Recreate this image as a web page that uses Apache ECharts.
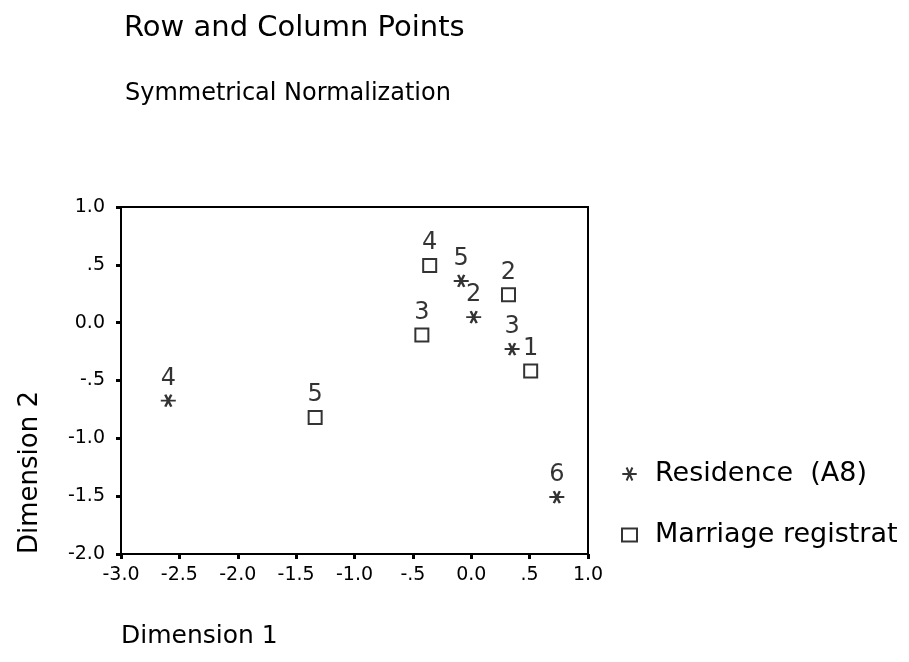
<!DOCTYPE html>
<html>
<head>
<meta charset="utf-8">
<script src="https://cdn.jsdelivr.net/npm/echarts@6/dist/echarts.min.js"></script>
<style>
  html, body { margin: 0; padding: 0; background: #fff; }
  #chart { width: 909px; height: 662px; }
</style>
</head>
<body>
<div id="chart"></div>
<script>
// ---- data ----
var residenceLabels = ['4', '5', '2', '3', '6'];
var residenceX = [-2.595, -0.086, 0.021, 0.350, 0.733];
var residenceY = [-0.674, 0.361, 0.048, -0.228, -1.508];

var marriageLabels = ['4', '3', '2', '1', '5'];
var marriageX = [-0.356, -0.423, 0.319, 0.509, -1.337];
var marriageY = [0.494, -0.107, 0.241, -0.418, -0.820];

var xTickLabels = ['-3.0', '-2.5', '-2.0', '-1.5', '-1.0', '-.5', '0.0', '.5', '1.0'];
var yTickLabels = ['-2.0', '-1.5', '-1.0', '-.5', '0.0', '.5', '1.0'];

var seriesNames = ['Residence  (A8)', 'Marriage registrat'];

// ---- build ----
function pts(xs, ys, labels) {
  return xs.map(function (x, i) { return { value: [x, ys[i]], name: labels[i] }; });
}
var FONT = '"DejaVu Sans", "Liberation Sans", Arial, sans-serif';
var starPath = 'path://M0,10 L20,10 M6,1 L14,19 M14,1 L6,19';

var chart = echarts.init(document.getElementById('chart'), null, { renderer: 'canvas' });
chart.setOption({
  backgroundColor: '#ffffff',
  animation: false,
  textStyle: { fontFamily: FONT },
  grid: {
    left: 121, right: 321, top: 207, bottom: 108,
    show: true, borderColor: '#000', borderWidth: 2, backgroundColor: 'transparent'
  },
  xAxis: {
    type: 'value', min: -3, max: 1, interval: 0.5,
    axisLine: { show: true, onZero: false, lineStyle: { color: '#000', width: 2 } },
    axisTick: { show: true, inside: false, length: 5, lineStyle: { color: '#000', width: 3 } },
    splitLine: { show: false },
    axisLabel: {
      color: '#000', fontSize: 19, fontFamily: FONT, margin: 12,
      formatter: function (v) { return xTickLabels[Math.round((v + 3) / 0.5)]; }
    }
  },
  yAxis: {
    type: 'value', min: -2, max: 1, interval: 0.5,
    axisLine: { show: true, onZero: false, lineStyle: { color: '#000', width: 2 } },
    axisTick: { show: true, inside: false, length: 5, lineStyle: { color: '#000', width: 3 } },
    splitLine: { show: false },
    axisLabel: {
      color: '#000', fontSize: 19, fontFamily: FONT, margin: 16,
      formatter: function (v) { return yTickLabels[Math.round((v + 2) / 0.5)]; }
    }
  },
  legend: {
    orient: 'vertical', left: 616, top: 455,
    itemWidth: 15, itemHeight: 13, itemGap: 33,
    textStyle: { color: '#000', fontSize: 27, lineHeight: 28, fontFamily: FONT, padding: [0, 0, 0, 13] },
    data: seriesNames
  },
  title: [
    { text: 'Row and Column Points', left: 119, top: 9,
      textStyle: { fontSize: 29, fontWeight: 'normal', color: '#000', fontFamily: FONT } },
    { text: 'Symmetrical Normalization', left: 120, top: 77,
      textStyle: { fontSize: 24, fontWeight: 'normal', color: '#000', fontFamily: FONT } }
  ],
  graphic: [
    { type: 'text', left: 121, top: 624,
      style: { text: 'Dimension 1', fill: '#000', font: '25px ' + FONT } },
    { type: 'text', x: 17, y: 554, rotation: Math.PI / 2,
      style: { text: 'Dimension 2', fill: '#000', font: '26px ' + FONT } }
  ],
  series: [
    {
      name: seriesNames[0], type: 'scatter',
      symbol: starPath, symbolSize: [15, 12],
      itemStyle: { color: 'transparent', borderColor: '#000', borderWidth: 2.2 },
      label: { show: true, position: 'top', distance: 3, color: '#000', fontSize: 24, fontFamily: FONT,
        formatter: function (p) { return p.name; } },
      emphasis: { disabled: true },
      data: pts(residenceX, residenceY, residenceLabels)
    },
    {
      name: seriesNames[1], type: 'scatter',
      symbol: 'rect', symbolSize: 13,
      itemStyle: { color: '#fff', borderColor: '#000', borderWidth: 2 },
      label: { show: true, position: 'top', distance: 3, color: '#000', fontSize: 24, fontFamily: FONT,
        formatter: function (p) { return p.name; } },
      emphasis: { disabled: true },
      data: pts(marriageX, marriageY, marriageLabels)
    }
  ]
});
</script>
</body>
</html>
